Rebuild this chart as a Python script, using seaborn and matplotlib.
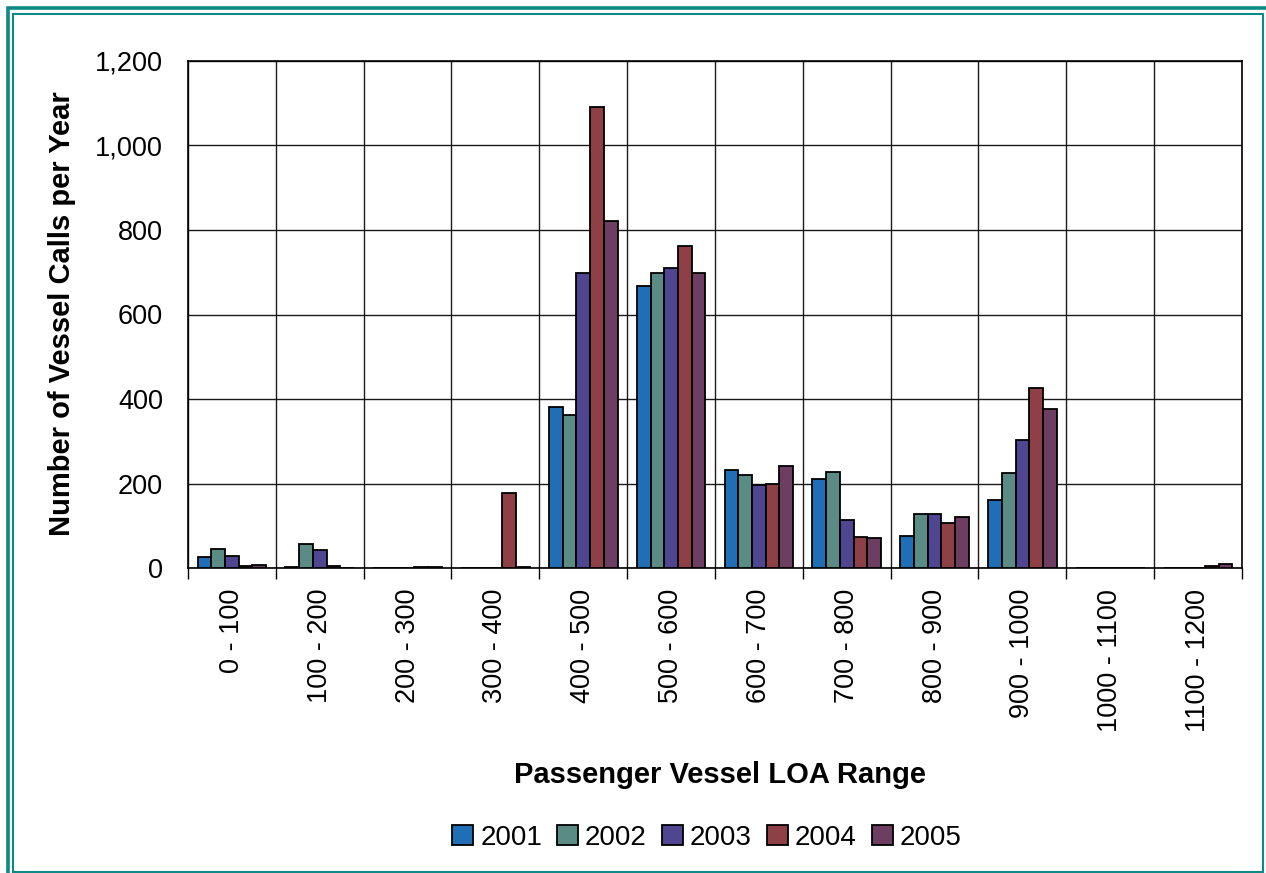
import numpy as np
import pandas as pd
import matplotlib
matplotlib.use("Agg")
import matplotlib.pyplot as plt
import seaborn as sns
from matplotlib.patches import Rectangle
from matplotlib.ticker import FuncFormatter

# LOA ranges (ft) and annual passenger vessel calls
ranges = ["0 - 100", "100 - 200", "200 - 300", "300 - 400", "400 - 500", "500 - 600",
          "600 - 700", "700 - 800", "800 - 900", "900 - 1000", "1000 - 1100", "1100 - 1200"]
years = ["2001", "2002", "2003", "2004", "2005"]
calls_2001 = [27, 2, 0, 0, 381, 667, 232, 211, 75, 162, 0, 0]
calls_2002 = [44, 56, 0, 1, 362, 698, 220, 228, 127, 225, 0, 0]
calls_2003 = [29, 43, 0, 1, 698, 711, 197, 114, 128, 304, 0, 0]
calls_2004 = [4, 5, 2, 178, 1092, 763, 199, 73, 106, 425, 0, 5]
calls_2005 = [6, 0, 2, 2, 821, 699, 242, 70, 120, 376, 0, 10]
colors = ["#1F6EB6", "#5A8B85", "#4F4590", "#8F4046", "#6E3D62"]

series = [calls_2001, calls_2002, calls_2003, calls_2004, calls_2005]
df = pd.DataFrame({
    "range": ranges * len(years),
    "year": np.repeat(years, len(ranges)),
    "calls": np.concatenate(series),
})

sns.set_style("white")
plt.rcParams["font.family"] = ["Liberation Sans", "DejaVu Sans"]
plt.rcParams["text.color"] = "black"
plt.rcParams["axes.labelcolor"] = "black"
plt.rcParams["xtick.color"] = "black"
plt.rcParams["ytick.color"] = "black"

W, H = 1266, 873
fig = plt.figure(figsize=(W / 100, H / 100), dpi=100)
ax = fig.add_axes([188 / W, 1 - 568 / H, (1242 - 188) / W, (568 - 61) / H])

sns.barplot(data=df, x="range", y="calls", hue="year", order=ranges, hue_order=years,
            palette=colors, saturation=1, width=0.78, edgecolor="black", linewidth=1.3,
            ax=ax, zorder=3)

ax.set_xlim(-0.5, len(ranges) - 0.5)
ax.set_ylim(0, 1200)
ax.set_yticks(np.arange(0, 1201, 200))
ax.yaxis.set_major_formatter(FuncFormatter(lambda v, p: f"{int(v):,}"))
ax.tick_params(axis="y", which="major", length=0, pad=18, labelsize=19.5)
ax.set_xticks(np.arange(len(ranges)))
ax.set_xticklabels(ranges, rotation=90, fontsize=19.5)
ax.tick_params(axis="x", which="major", length=0, pad=15)
ax.set_xticks(np.arange(-0.5, len(ranges), 1), minor=True)
ax.tick_params(axis="x", which="minor", direction="out", length=8, width=1, bottom=True)

ax.grid(axis="y", which="major", color="#1a1a1a", linewidth=1, zorder=0)
ax.grid(axis="x", which="minor", color="#1a1a1a", linewidth=1, zorder=0)
ax.set_axisbelow(True)
for sp in ax.spines.values():
    sp.set_visible(True)
    sp.set_color("black")
    sp.set_linewidth(1.2)

ax.set_xlabel("Passenger Vessel LOA Range", fontsize=21, fontweight="bold")
ax.set_ylabel("Number of Vessel Calls per Year", fontsize=21, fontweight="bold")
ax.xaxis.set_label_coords((720 - 188) / (1242 - 188), 1 - (775 - 61) / (568 - 61))
ax.yaxis.set_label_coords((62 - 188) / (1242 - 188), 1 - (314 - 61) / (568 - 61))
ax.xaxis.label.set_va("center")
ax.yaxis.label.set_va("center")

handles, labels = ax.get_legend_handles_labels()
ax.legend(handles, labels, loc="center", bbox_to_anchor=(707 / W, 1 - 838 / H),
          bbox_transform=fig.transFigure, ncol=5, frameon=False, fontsize=20,
          handlelength=0.75, handleheight=0.75, handletextpad=0.25, columnspacing=0.55)

# Double teal frame around the whole chart
teal = "#0E8A86"
fig.patches.append(Rectangle((7.8 / W, -20 / H), 1290 / W, (873 - 8.2 + 20) / H,
                             transform=fig.transFigure, fill=False,
                             edgecolor=teal, linewidth=2.6))
fig.patches.append(Rectangle((13.4 / W, 1 - 871.7 / H), (1263 - 13.4) / W, (871.7 - 14) / H,
                             transform=fig.transFigure, fill=False,
                             edgecolor=teal, linewidth=1.5))

fig.savefig("out.png", dpi=100)
